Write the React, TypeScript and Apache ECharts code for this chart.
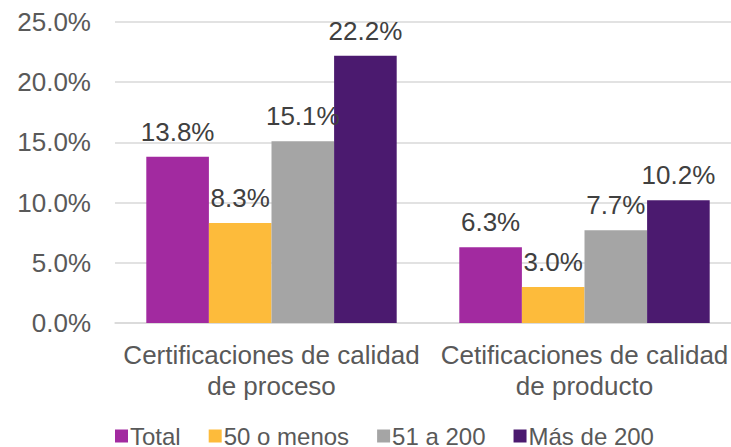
import React, { useEffect, useRef } from "react";
import * as echarts from "echarts";

const categories = [
  "Certificaciones de calidad\nde proceso",
  "Cetificaciones de calidad\nde producto",
];
const seriesNames = ["Total", "50 o menos", "51 a 200", "Más de 200"];
const totalValues = [13.8, 6.3];
const menos50Values = [8.3, 3.0];
const de51a200Values = [15.1, 7.7];
const mas200Values = [22.2, 10.2];
const colors = ["#A22AA0", "#FDBB3B", "#A5A5A5", "#4B1A6F"];

export default function App() {
  const ref = useRef<HTMLDivElement>(null);
  useEffect(() => {
    document.body.style.margin = "0";
    const chart = echarts.init(ref.current!, null, { renderer: "svg" });
    const data = [totalValues, menos50Values, de51a200Values, mas200Values];
    const font = "'Liberation Sans', Arial, sans-serif";
    chart.setOption({
      animation: false,
      textStyle: { fontFamily: font },
      grid: { left: 115, top: 22, height: 301, width: 626, containLabel: false },
      legend: {
        data: seriesNames,
        left: 115,
        top: 424,
        padding: 0,
        itemWidth: 13,
        itemHeight: 13,
        itemGap: 28,
        icon: "rect",
        textStyle: {
          fontSize: 24,
          lineHeight: 20,
          color: "#595959",
          fontFamily: font,
          padding: [0, 0, 0, -3],
        },
      },
      xAxis: {
        type: "category",
        data: categories,
        axisLine: { lineStyle: { color: "#D9D9D9", width: 1.5 } },
        axisTick: { show: false },
        axisLabel: {
          interval: 0,
          fontSize: 26,
          color: "#595959",
          lineHeight: 31,
          margin: 16,
          fontFamily: font,
        },
      },
      yAxis: {
        type: "value",
        min: 0,
        max: 25,
        interval: 5,
        axisLine: { show: false },
        axisTick: { show: false },
        splitLine: { lineStyle: { color: "#D9D9D9", width: 1.5 } },
        axisLabel: {
          fontSize: 26,
          color: "#595959",
          margin: 24,
          fontFamily: font,
          formatter: (v: number) => v.toFixed(1) + "%",
        },
      },
      series: seriesNames.map((name, i) => ({
        name,
        type: "bar",
        data: data[i],
        barGap: "0%",
        barCategoryGap: "20%",
        itemStyle: { color: colors[i] },
        label: {
          show: true,
          position: "top",
          distance: 12,
          fontSize: 26,
          color: "#404040",
          fontFamily: font,
          formatter: (p: any) => Number(p.value).toFixed(1) + "%",
        },
      })),
    });
    return () => chart.dispose();
  }, []);
  return (
    <div style={{ width: 731, height: 447, overflow: "hidden", position: "relative" }}>
      <div ref={ref} style={{ width: 745, height: 447 }} />
    </div>
  );
}
